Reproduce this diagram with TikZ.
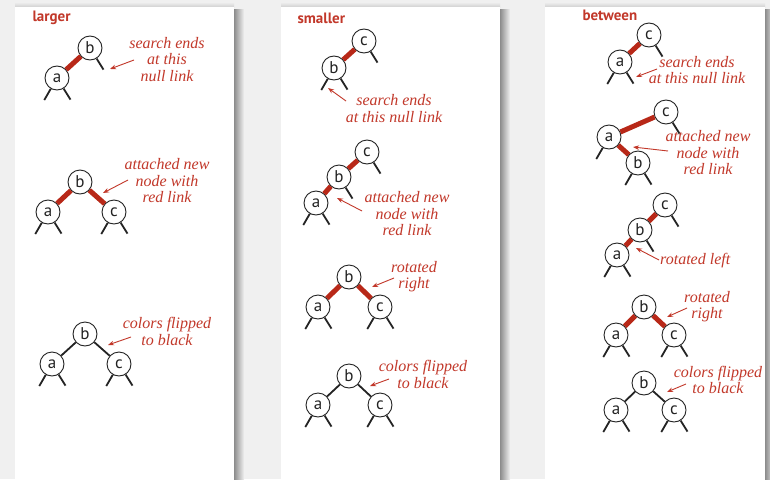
\documentclass[tikz,border=0pt]{standalone}
\usepackage{fontspec}
\setmainfont{Liberation Serif}
\newfontfamily\keyfont{PT Sans}
\usetikzlibrary{arrows.meta}
\definecolor{bggray}{RGB}{240,240,240}
\definecolor{notered}{RGB}{194,56,42}
\definecolor{linkred}{RGB}{184,40,24}
\definecolor{ink}{RGB}{35,35,35}

\begin{document}
\begin{tikzpicture}[
      x=1pt, y=-1pt,
      key/.style={draw=ink, circle, line width=0.9pt, minimum size=24pt, inner sep=0pt, fill=white,
        text=ink, font=\keyfont\fontsize{17}{17}\selectfont},
      title/.style={anchor=west, text=notered, font=\keyfont\bfseries\fontsize{15}{15}\selectfont},
      say/.style={text=notered, align=center, inner sep=0pt,
        font=\itshape\fontsize{16}{16.5}\selectfont},
      redlink/.style={draw=linkred, line width=5pt},
      blacklink/.style={draw=ink, line width=1.8pt},
      nil/.style={draw=ink, line width=1.8pt},
      note/.style={draw=notered, line width=0.9pt, -{Stealth[length=6pt, width=4.5pt]}},
  ]
      \useasboundingbox (0,0) rectangle (770,479);
      \fill[bggray] (0,0) rectangle (770,479);

      % Panels with shadow on the right
      \foreach \l/\r in {15/234, 281/500, 545/765} {
        \shade[left color=black!45, right color=bggray] (\r,9) rectangle (\r+10,479);
        \shade[top color=bggray, bottom color=black!18] (\l,2) rectangle (\r,7);
        \fill[white] (\l,7) rectangle (\r,479);
      }

      % Titles
      \node[title] (larger) at (29,18) {larger};
      \node[title] (smaller) at (294,18) {smaller};
      \node[title] (between) at (579,15) {between};

      % ---------- larger ----------
      \node[key] (Lb1) at (90,48) {b};
      \node[key] (La1) at (57,78) {a};
      \node[say] (Lt1) at (167,59.5) {search ends\\at this\\null link};

      \node[key] (Lb2) at (80,182) {b};
      \node[key] (La2) at (48,212) {a};
      \node[key] (Lc2) at (114,212) {c};
      \node[say] (Lt2) at (167,181) {attached new\\node with\\red link};

      \node[key] (Lb3) at (85,334) {b};
      \node[key] (La3) at (52,364) {a};
      \node[key] (Lc3) at (119,364) {c};
      \node[say] (Lt3) at (167,331.5) {colors flipped\\to black};

      \draw[redlink] (La1) -- (Lb1);
      \draw[redlink] (La2) -- (Lb2);
      \draw[redlink] (Lb2) -- (Lc2);
      \draw[blacklink] (La3) -- (Lb3);
      \draw[blacklink] (Lb3) -- (Lc3);

      % ---------- smaller ----------
      \node[key] (Sc1) at (364,41) {c};
      \node[key] (Sb1) at (334,68) {b};
      \node[say] (St1) at (394,108.5) {search ends\\at this null link};

      \node[key] (Sc2) at (367,152) {c};
      \node[key] (Sb2) at (339,177) {b};
      \node[key] (Sa2) at (316,203) {a};
      \node[say] (St2) at (407,214) {attached new\\node with\\red link};

      \node[key] (Sb3) at (349,277) {b};
      \node[key] (Sa3) at (318,307) {a};
      \node[key] (Sc3) at (380,307) {c};
      \node[say] (St3) at (414,276.5) {rotated\\right};

      \node[key] (Sb4) at (349,376) {b};
      \node[key] (Sa4) at (318,405) {a};
      \node[key] (Sc4) at (380,405) {c};
      \node[say] (St4) at (423,374.5) {colors flipped\\to black};

      \draw[redlink] (Sb1) -- (Sc1);
      \draw[redlink] (Sb2) -- (Sc2);
      \draw[redlink] (Sa2) -- (Sb2);
      \draw[redlink] (Sa3) -- (Sb3);
      \draw[redlink] (Sb3) -- (Sc3);
      \draw[blacklink] (Sa4) -- (Sb4);
      \draw[blacklink] (Sb4) -- (Sc4);

      % ---------- between ----------
      \node[key] (Bc1) at (649,35) {c};
      \node[key] (Ba1) at (620,62) {a};
      \node[say] (Bt1) at (697,70) {search ends\\at this null link};

      \node[key] (Bc2) at (666,112) {c};
      \node[key] (Ba2) at (609,137) {a};
      \node[key] (Bb2) at (638,163) {b};
      \node[say] (Bt2) at (708,153) {attached new\\node with\\red link};

      \node[key] (Bc3) at (665,205) {c};
      \node[key] (Bb3) at (640,230) {b};
      \node[key] (Ba3) at (617,255) {a};
      \node[say, anchor=west] (Bt3) at (660,261) {rotated left};

      \node[key] (Bb4) at (644,307) {b};
      \node[key] (Ba4) at (616,335) {a};
      \node[key] (Bc4) at (674,335) {c};
      \node[say] (Bt4) at (707,306.5) {rotated\\right};

      \node[key] (Bb5) at (644,383) {b};
      \node[key] (Ba5) at (616,410) {a};
      \node[key] (Bc5) at (674,410) {c};
      \node[say] (Bt5) at (718,380) {colors flipped\\to black};

      \draw[redlink] (Ba1) -- (Bc1);
      \draw[redlink] (Ba2) -- (Bc2);
      \draw[redlink] (Ba2) -- (Bb2);
      \draw[redlink] (Ba3) -- (Bb3);
      \draw[redlink] (Bb3) -- (Bc3);
      \draw[redlink] (Ba4) -- (Bb4);
      \draw[redlink] (Bb4) -- (Bc4);
      \draw[blacklink] (Ba5) -- (Bb5);
      \draw[blacklink] (Bb5) -- (Bc5);

      % Null links
      \foreach \n in {La1, La2, Lc2, La3, Lc3, Sb1, Sa2, Sa3, Sc3, Sa4, Sc4,
                      Ba1, Ba2, Bb2, Ba3, Ba4, Bc4, Ba5, Bc5}
        \draw[nil] (\n.-120) -- ++(-120:13pt);
      \foreach \n in {Lb1, La1, La2, Lc2, La3, Lc3, Sc1, Sb1, Sc2, Sb2, Sa2, Sa3, Sc3, Sa4, Sc4,
                      Bc1, Ba1, Bc2, Bb2, Bc3, Bb3, Ba3, Ba4, Bc4, Ba5, Bc5}
        \draw[nil] (\n.-58) -- ++(-58:13pt);

      % Pointers from the notes
      \coordinate (Lp1) at (134,60);  \coordinate (Lq1) at (110,69);
      \coordinate (Lp2) at (128,180); \coordinate (Lq2) at (103,193);
      \coordinate (Lp3) at (131,337); \coordinate (Lq3) at (108,345);
      \coordinate (Sp1) at (346,101); \coordinate (Sq1) at (328,88);
      \coordinate (Sp2) at (362,211); \coordinate (Sq2) at (337,198);
      \coordinate (Sp3) at (394,278); \coordinate (Sq3) at (372,287);
      \coordinate (Sp4) at (389,379); \coordinate (Sq4) at (370,386);
      \coordinate (Bp1) at (657,69);  \coordinate (Bq1) at (636,77);
      \coordinate (Bp2) at (668,151); \coordinate (Bq2) at (633,147);
      \coordinate (Bp3) at (659,260); \coordinate (Bq3) at (636,248);
      \coordinate (Bp4) at (687,308); \coordinate (Bq4) at (667,317);
      \coordinate (Bp5) at (686,384); \coordinate (Bq5) at (667,392);
      \foreach \p/\q in {Lp1/Lq1, Lp2/Lq2, Lp3/Lq3, Sp1/Sq1, Sp2/Sq2, Sp3/Sq3, Sp4/Sq4,
                         Bp1/Bq1, Bp2/Bq2, Bp3/Bq3, Bp4/Bq4, Bp5/Bq5}
        \draw[note] (\p) -- (\q);

\end{tikzpicture}
\end{document}
